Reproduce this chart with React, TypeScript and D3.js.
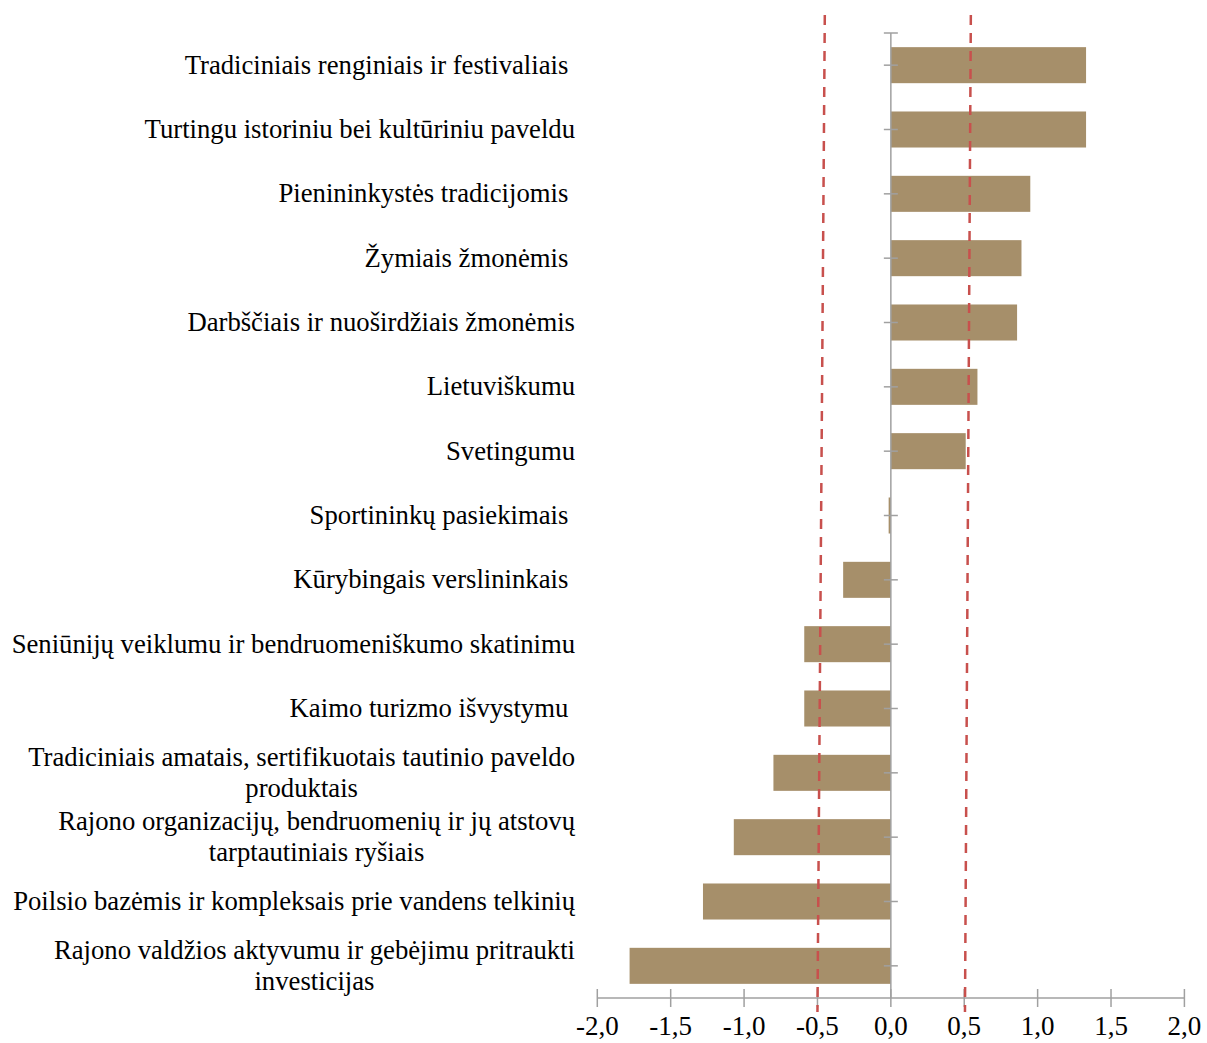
import React, { useEffect, useRef } from "react";
import * as d3 from "d3";

const categories: string[][] = [
  ["Tradiciniais renginiais ir festivaliais "],
  ["Turtingu istoriniu bei kultūriniu paveldu"],
  ["Pienininkystės tradicijomis "],
  ["Žymiais žmonėmis "],
  ["Darbščiais ir nuoširdžiais žmonėmis"],
  ["Lietuviškumu"],
  ["Svetingumu"],
  ["Sportininkų pasiekimais "],
  ["Kūrybingais verslininkais "],
  ["Seniūnijų veiklumu ir bendruomeniškumo skatinimu"],
  ["Kaimo turizmo išvystymu "],
  ["Tradiciniais amatais, sertifikuotais tautinio paveldo", "produktais"],
  ["Rajono organizacijų, bendruomenių ir jų atstovų", "tarptautiniais ryšiais"],
  ["Poilsio bazėmis ir kompleksais prie vandens telkinių"],
  ["Rajono valdžios aktyvumu ir gebėjimu pritraukti", "investicijas"],
];

const values: number[] = [
  1.33, 1.33, 0.95, 0.89, 0.86, 0.59, 0.51, -0.015, -0.325, -0.59, -0.59, -0.8, -1.07, -1.28, -1.78,
];

const xTicks: number[] = [-2, -1.5, -1, -0.5, 0, 0.5, 1, 1.5, 2];
const refLineTop: number[] = [-0.45, 0.545];
const refLineBottom: number[] = [-0.5, 0.505];

const W = 1207;
const H = 1043;
const FONT = "'Liberation Serif', 'Times New Roman', serif";

export default function App() {
  const ref = useRef<SVGSVGElement>(null);

  useEffect(() => {
    const svg = d3.select(ref.current);
    svg.selectAll("*").remove();

    const x = d3.scaleLinear().domain([-2, 2]).range([597.3, 1184.4]);
    const keys = categories.map((_, i) => String(i));
    const y = d3.scaleBand<string>().domain(keys).range([33, 998]).paddingInner(0.44).paddingOuter(0.22);
    const axisColor = "#a0a0a0";
    const axisY = 998;

    // bars
    svg
      .append("g")
      .selectAll("rect")
      .data(values)
      .join("rect")
      .attr("x", (d) => Math.min(x(0), x(d)))
      .attr("width", (d) => Math.abs(x(d) - x(0)))
      .attr("y", (_, i) => y(String(i))!)
      .attr("height", y.bandwidth())
      .attr("fill", "#a68f6a");

    // vertical axis
    const gY = svg.append("g");
    gY.append("line")
      .attr("x1", x(0)).attr("x2", x(0))
      .attr("y1", 33).attr("y2", axisY)
      .attr("stroke", axisColor).attr("stroke-width", 1.5);
    const yTickPos = [33, ...keys.map((k) => y(k)! + y.bandwidth() / 2)];
    gY.selectAll("line.t")
      .data(yTickPos)
      .join("line")
      .attr("class", "t")
      .attr("x1", x(0) - 7).attr("x2", x(0) + 7)
      .attr("y1", (d) => d).attr("y2", (d) => d)
      .attr("stroke", axisColor).attr("stroke-width", 1.5);

    // horizontal axis
    const gX = svg.append("g");
    gX.append("line")
      .attr("x1", x(-2)).attr("x2", x(2))
      .attr("y1", axisY).attr("y2", axisY)
      .attr("stroke", axisColor).attr("stroke-width", 1.5);
    gX.selectAll("line.t")
      .data(xTicks)
      .join("line")
      .attr("class", "t")
      .attr("x1", (d) => x(d)).attr("x2", (d) => x(d))
      .attr("y1", axisY - 9).attr("y2", axisY + 9)
      .attr("stroke", axisColor).attr("stroke-width", 1.5);
    gX.selectAll("text")
      .data(xTicks)
      .join("text")
      .attr("x", (d) => x(d))
      .attr("y", 1035)
      .attr("text-anchor", "middle")
      .attr("font-family", FONT)
      .attr("font-size", 27)
      .attr("fill", "#000")
      .text((d) => d3.format(".1f")(d).replace("−", "-").replace(".", ","));

    // reference dashed lines
    svg
      .append("g")
      .selectAll("line")
      .data(refLineTop.map((t, i) => [t, refLineBottom[i]]))
      .join("line")
      .attr("x1", (d) => x(d[0])).attr("y1", 15)
      .attr("x2", (d) => x(d[1])).attr("y2", 1012)
      .attr("stroke", "#c8504d")
      .attr("stroke-width", 2.5)
      .attr("stroke-dasharray", "10 8");

    // category labels
    const labelRight = 575;
    const lineGap = 31;
    const gL = svg.append("g");
    categories.forEach((lines, i) => {
      const cy = y(String(i))! + y.bandwidth() / 2;
      const t = gL
        .append("text")
        .attr("font-family", FONT)
        .attr("font-size", 26.7)
        .attr("fill", "#000")
        .style("white-space", "pre");
      if (lines.length === 1) {
        t.append("tspan").attr("x", labelRight).attr("y", cy + 8.5).attr("text-anchor", "end").text(lines[0]);
      } else {
        const spans = lines.map((ln, j) =>
          t.append("tspan")
            .attr("y", cy + 8.5 + (j - (lines.length - 1) / 2) * lineGap)
            .attr("text-anchor", "middle")
            .text(ln)
        );
        const widths = spans.map((s) => (s.node() as SVGTSpanElement).getComputedTextLength());
        const maxW = Math.max(...widths);
        const cx = labelRight - maxW / 2;
        spans.forEach((s) => s.attr("x", cx));
      }
    });
  }, []);

  return (
    <svg
      ref={ref}
      width={W}
      height={H}
      style={{ position: "absolute", left: 0, top: 0, background: "#fff", display: "block" }}
    />
  );
}
